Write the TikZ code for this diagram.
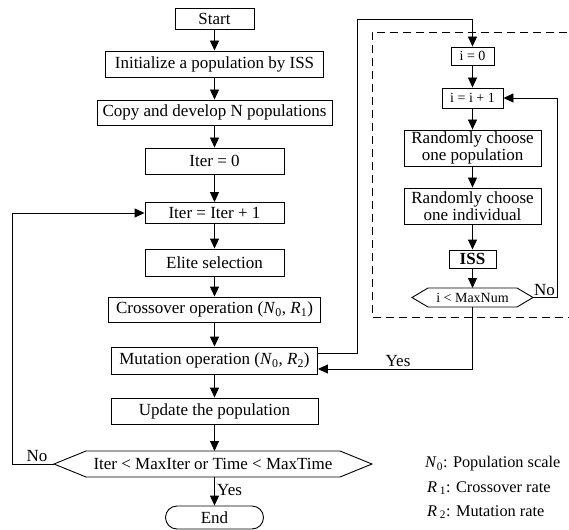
\documentclass[tikz,border=0pt]{standalone}
\usepackage{fontspec}
\setmainfont{Liberation Serif}
\usetikzlibrary{arrows.meta,shapes.misc,calc}

\begin{document}
\begin{tikzpicture}[x=1pt,y=-1pt,
  box/.style={draw=black, line width=0.9pt, inner sep=0pt, align=center,
    font=\fontsize{17}{17.5}\selectfont},
  smallbox/.style={box, font=\fontsize{14}{15}\selectfont},
  flow/.style={-{Triangle[length=10pt,width=9pt]}, line width=0.9pt},
  plain/.style={line width=0.9pt},
  lbl/.style={inner sep=0pt, font=\fontsize{17}{17.5}\selectfont},
  leglbl/.style={inner sep=0pt, font=\fontsize{16.3}{17}\selectfont},
  smalllbl/.style={inner sep=0pt, font=\fontsize{14}{15}\selectfont},
  frame/.style={line width=0.9pt, dash pattern=on 8pt off 5pt}]
\useasboundingbox (0,0) rectangle (569,529);

% ---- main column ----
\node[box, minimum width=79,  minimum height=21] (start)  at (214.5,18.5) {Start};
\node[box, minimum width=218, minimum height=26] (init)   at (214.5,64)   {Initialize a population by ISS};
\node[box, minimum width=235, minimum height=25] (copy)   at (214.5,112.5){Copy and develop N populations};
\node[box, minimum width=139, minimum height=26] (iter0)  at (214.5,161)  {Iter = 0};
\node[box, minimum width=139, minimum height=21] (iter1)  at (214.5,213)  {Iter = Iter + 1};
\node[box, minimum width=139, minimum height=27] (elite)  at (214.5,262.5){Elite selection};
\node[box, minimum width=212, minimum height=25] (cross)  at (214.5,309.5)
  {Crossover operation (\textit{N}\textsubscript{0}, \textit{R}\textsubscript{1})};
\node[box, minimum width=206, minimum height=27] (mut)    at (214.5,360.5)
  {Mutation operation (\textit{N}\textsubscript{0}, \textit{R}\textsubscript{2})};
\node[box, minimum width=207, minimum height=26] (update) at (214.5,411)  {Update the population};

% main decision (hexagon drawn around a text node)
\node[lbl] (dec) at (213,464) {Iter < MaxIter or Time < MaxTime};
\coordinate (decW) at (54,464);
\coordinate (decE) at (372,464);
\coordinate (decN) at (213,451);
\coordinate (decS) at (213,477);
\draw[plain] (decW) -- (86,451) -- (340,451) -- (decE) -- (340,477) -- (86,477) -- cycle;

\node[box, rounded rectangle, minimum width=98, minimum height=23] (end) at (214.5,517.5) {End};

% ---- inner loop ----
\draw[frame] (580,32) -- (372,32) -- (372,317) -- (580,317);

\node[smallbox, minimum width=43,  minimum height=18] (i0)   at (472.5,56)  {i = 0};
\node[smallbox, minimum width=61,  minimum height=20] (i1)   at (472.5,98)  {i = i + 1};
\node[box,      minimum width=137, minimum height=36] (rpop) at (472.5,148) {Randomly choose\\one population};
\node[box,      minimum width=137, minimum height=36] (rind) at (472.5,206) {Randomly choose\\one individual};
\node[box,      minimum width=47,  minimum height=18, font=\fontsize{17}{17.5}\selectfont\bfseries] (iss) at (472.5,259) {ISS};

\node[smalllbl] (dec2) at (472.5,297.5) {i < MaxNum};
\coordinate (dec2W) at (412,297.5);
\coordinate (dec2E) at (533,297.5);
\coordinate (dec2N) at (472.5,288);
\coordinate (dec2S) at (472.5,307);
\draw[plain] (dec2W) -- (428,288) -- (517,288) -- (dec2E) -- (517,307) -- (428,307) -- cycle;

% ---- connectors: main column ----
\draw[flow] (start) -- (init);
\draw[flow] (init) -- (copy);
\draw[flow] (copy) -- (iter0);
\draw[flow] (iter0) -- (iter1);
\draw[flow] (iter1) -- (elite);
\draw[flow] (elite) -- (cross);
\draw[flow] (cross) -- (mut);
\draw[flow] (mut) -- (update);
\draw[flow] (update.south) -- (update.south |- decN);
\draw[flow] (update.south |- decS) -- (end.north);
\node[lbl, anchor=west] (yesend) at (217,490) {Yes};

% back to the iteration counter
\coordinate (loopL) at (12,464);
\draw[flow] (decW) -- (loopL) |- (iter1.west);
\node[lbl, anchor=south] (nomain) at (37,462) {No};

% into the inner loop
\draw[flow] ($(mut.east)+(0,-7.5)$) -- ++(39.5,0) |- ($(i0.north)+(0,-27)$) -- (i0.north);

% ---- connectors: inner loop ----
\draw[flow] (i0) -- (i1);
\draw[flow] (i1) -- (rpop);
\draw[flow] (rpop) -- (rind);
\draw[flow] (rind) -- (iss);
\draw[flow] (iss.south) -- (dec2N);

\coordinate (backR) at (557,297.5);
\draw[flow] (dec2E) -- (backR) |- (i1.east);
\node[lbl, anchor=south west] (noinner) at (534,296) {No};

\draw[flow] (dec2S) |- ($(mut.east)+(0,8.5)$);
\node[lbl, anchor=south] (yesinner) at (398,367) {Yes};

% ---- legend ----
\node[leglbl, anchor=west] (leg1) at (425,464) {\textit{N}\textsubscript{0}: Population scale};
\node[leglbl, anchor=west] (leg2) at (427,488) {\textit{R}\,\textsubscript{1}: Crossover rate};
\node[leglbl, anchor=west] (leg3) at (427,512) {\textit{R}\,\textsubscript{2}: Mutation rate};
\end{tikzpicture}
\end{document}
